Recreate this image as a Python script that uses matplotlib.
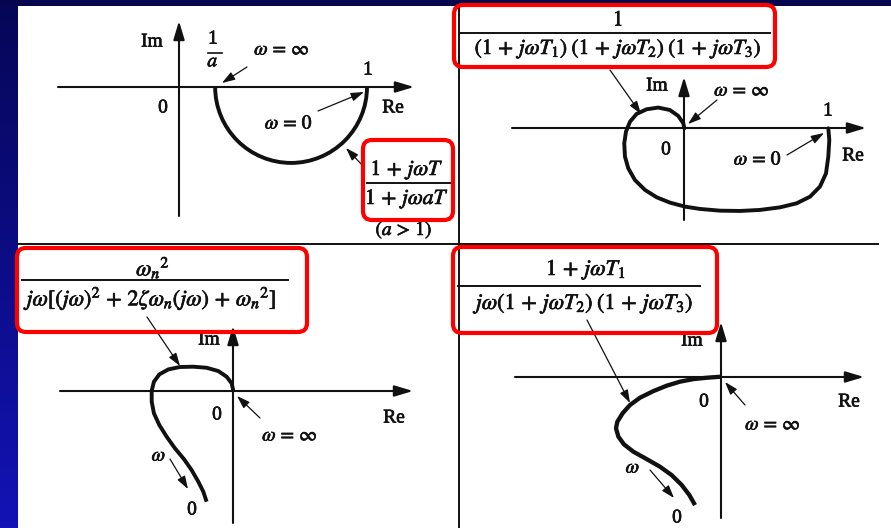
import matplotlib
matplotlib.use("Agg")
import matplotlib.pyplot as plt
import matplotlib.patheffects as pe
import numpy as np
from matplotlib.patches import Arc, FancyBboxPatch, Rectangle

W, H, DPI = 891, 528, 100
INK = "#111111"
RED = "#ff0000"

# ---- data: Nyquist loci (Re, Im) ----------------------------------------
# (1 + jωT)/(1 + jωaT), a > 1 : semicircle between 1/a and 1
lead_a = 5.2

# 1/((1 + jωT1)(1 + jωT2)(1 + jωT3))
third_re = [1.0, 1.007, 1.0, 0.984, 0.942, 0.873, 0.780, 0.664, 0.525, 0.387,
            0.248, 0.109, 0.005, -0.100, -0.192, -0.273, -0.343, -0.389, -0.412,
            -0.417, -0.405, -0.377, -0.331, -0.262, -0.181, -0.100, -0.042, -0.007, 0.0]
third_im = [0.0, -0.081, -0.197, -0.313, -0.405, -0.475, -0.521, -0.549, -0.567, -0.574,
            -0.572, -0.560, -0.544, -0.516, -0.479, -0.428, -0.359, -0.278, -0.197,
            -0.104, -0.023, 0.046, 0.100, 0.132, 0.144, 0.127, 0.086, 0.035, 0.0]

# ωn² / (jω[(jω)² + 2ζωn(jω) + ωn²])
second_re = [0.0, -0.011, -0.044, -0.100, -0.178, -0.267, -0.356, -0.433, -0.493, -0.529,
             -0.544, -0.544, -0.529, -0.493, -0.444, -0.389, -0.329, -0.278, -0.233, -0.200, -0.178]
second_im = [0.0, 0.049, 0.093, 0.131, 0.153, 0.160, 0.158, 0.142, 0.109, 0.060,
             0.0, -0.073, -0.151, -0.229, -0.307, -0.384, -0.456, -0.529, -0.607, -0.673, -0.740]

# (1 + jωT1) / (jω(1 + jωT2)(1 + jωT3))
type1_re = [0.0, -0.096, -0.184, -0.273, -0.362, -0.451, -0.540, -0.607, -0.656, -0.691,
            -0.700, -0.684, -0.647, -0.584, -0.496, -0.407, -0.329, -0.262, -0.211, -0.173]
type1_im = [0.0, -0.007, -0.016, -0.033, -0.060, -0.096, -0.140, -0.189, -0.244, -0.300,
            -0.344, -0.400, -0.451, -0.500, -0.549, -0.600, -0.656, -0.722, -0.789, -0.856]

plt.rcParams["font.family"] = ["Liberation Serif", "DejaVu Serif"]
plt.rcParams["mathtext.fontset"] = "stix"

fig = plt.figure(figsize=(W / DPI, H / DPI), dpi=DPI)
fig.patch.set_facecolor("#06064e")

# base layer in pixel units (y downwards)
base = fig.add_axes([0, 0, 1, 1])
base.axis("off")

# left gradient strip
grad = np.linspace(0, 1, 256)[:, None]
c0 = np.array([6, 6, 88]) / 255
c1 = np.array([19, 19, 182]) / 255
strip = (c0 + (c1 - c0) * grad).reshape(256, 1, 3)
base.imshow(strip, extent=(0, 18, H, 6), aspect="auto", zorder=0, interpolation="bilinear")
base.add_patch(Rectangle((18, 6), W - 18, H - 6, facecolor="white", edgecolor="none", zorder=1))
base.set_xlim(0, W)
base.set_ylim(H, 0)

# panel dividers
base.plot([458.5, 458.5], [6, H], color=INK, lw=1.4, zorder=2)
base.plot([18, 878], [244, 244], color=INK, lw=1.4, zorder=2)

heavy = [pe.withStroke(linewidth=0.5, foreground=INK)]


def axis_arrow(x0, y0, x1, y1):
    base.annotate("", xy=(x1, y1), xytext=(x0, y0),
                  arrowprops=dict(arrowstyle="-|>,head_length=0.8,head_width=0.24",
                                  lw=1.5, color=INK, shrinkA=0, shrinkB=0,
                                  mutation_scale=14), zorder=3)


def pointer(x0, y0, x1, y1):
    base.annotate("", xy=(x1, y1), xytext=(x0, y0),
                  arrowprops=dict(arrowstyle="-|>,head_length=0.6,head_width=0.2",
                                  lw=0.9, color=INK, shrinkA=0, shrinkB=0,
                                  mutation_scale=13), zorder=3)


def label(x, y, s, size=14):
    base.text(x, y, s, ha="center", va="center", fontsize=size, color=INK, zorder=4,
              path_effects=heavy)


def fraction(cx, ynum, yline, yden, x0, x1, num, den, size=16):
    label(cx, ynum, num, size)
    base.plot([x0, x1], [yline, yline], color=INK, lw=1.4, zorder=4)
    label(cx, yden, den, size)


def red_box(x0, y0, x1, y1):
    base.add_patch(FancyBboxPatch((x0, y0), x1 - x0, y1 - y0,
                                  boxstyle="round,pad=0,rounding_size=9",
                                  facecolor="none", edgecolor=RED, lw=3.0, zorder=6))


def locus_axes(ox, oy, s):
    ax = fig.add_axes([0, 0, 1, 1])
    ax.set_xlim(-ox / s, (W - ox) / s)
    ax.set_ylim((oy - H) / s, oy / s)
    ax.axis("off")
    ax.patch.set_alpha(0)
    return ax


W_INF = r"$\omega\,=\,\infty$"
W_ZERO = r"$\omega\,=\,0$"

# ---------------- panel 1 ----------------
axis_arrow(58, 87, 414, 87)
axis_arrow(179, 216, 179, 21)
ax1 = locus_axes(179, 87, 188)
r = (1 - 1 / lead_a)
ax1.add_patch(Arc(((1 + 1 / lead_a) / 2, 0), r, r, theta1=180, theta2=360,
                  color=INK, lw=2.8, zorder=5))
label(152, 42, "Im")
label(163, 108, "0")
label(213, 39, "1")
base.plot([208, 222], [53, 53], color=INK, lw=1.2)
label(213, 62, r"$a$")
label(282, 50, W_INF)
pointer(247, 67, 222, 83)
label(368, 70, "1")
label(393, 108, "Re")
label(289, 124, W_ZERO)
pointer(318, 111, 364, 92)
pointer(364, 167, 346, 148)
fraction(407, 170, 183, 199, 367, 452, r"$1\,+\,j\omega T$", r"$1\,+\,j\omega a T$", 15.5)
label(404, 230, r"$(a\,>\,1)$")
red_box(363, 140, 453, 220)

# ---------------- panel 2 ----------------
axis_arrow(512, 128, 866, 128)
axis_arrow(684, 220, 684, 77)
ax2 = locus_axes(684.3, 128.3, 144)
ax2.plot(third_re, third_im, color=INK, lw=2.8, solid_joinstyle="round",
         solid_capstyle="round", zorder=5)
label(657, 86, "Im")
label(742, 91, W_INF)
pointer(717, 100, 688, 124)
label(828, 111, "1")
label(666, 150, "0")
label(853, 156, "Re")
label(758, 160, W_ZERO)
pointer(787, 155, 824, 133)
pointer(610, 70, 641, 114)
fraction(618, 21, 33, 49, 460, 770, r"$1$",
         r"$(1\,+\,j\omega T_1)\;(1\,+\,j\omega T_2)\;(1\,+\,j\omega T_3)$", 15.5)
red_box(454, 5, 775, 67)

# ---------------- panel 3 ----------------
axis_arrow(60, 391, 413, 391)
axis_arrow(233, 523, 233, 326)
ax3 = locus_axes(233.3, 390.7, 150)
ax3.plot(second_re, second_im, color=INK, lw=2.8, solid_joinstyle="round",
         solid_capstyle="butt", zorder=5)
label(209, 340, "Im")
label(217, 415, "0")
label(394, 418, "Re")
label(290, 436, W_INF)
pointer(260, 418, 237, 396)
pointer(147, 317, 180, 366)
label(159, 456, r"$\omega$")
pointer(170, 459, 188, 489)
label(192, 510, "0")
fraction(153, 268, 280, 299, 22, 288, r"$\omega_n{}^2$",
         r"$j\omega[(j\omega)^2\,+\,2\zeta\omega_n(j\omega)\,+\,\omega_n{}^2]$", 16)
red_box(17, 248, 307, 332)

# ---------------- panel 4 ----------------
axis_arrow(515, 377, 864, 377)
axis_arrow(721, 518, 721, 322)
ax4 = locus_axes(721, 376.7, 150)
ax4.plot(type1_re, type1_im, color=INK, lw=3.1, solid_joinstyle="round",
         solid_capstyle="butt", zorder=5)
label(692, 341, "Im")
label(704, 402, "0")
label(849, 402, "Re")
label(773, 425, W_INF)
pointer(745, 405, 725, 382)
pointer(587, 320, 630, 403)
label(633, 468, r"$\omega$")
pointer(650, 470, 674, 498)
label(677, 518, "0")
fraction(586, 270, 286, 304, 458, 700, r"$1\,+\,j\omega T_1$",
         r"$j\omega(1\,+\,j\omega T_2)\;(1\,+\,j\omega T_3)$", 16)
red_box(453, 247, 717, 333)

fig.savefig("out.png", dpi=DPI, facecolor=fig.get_facecolor())
